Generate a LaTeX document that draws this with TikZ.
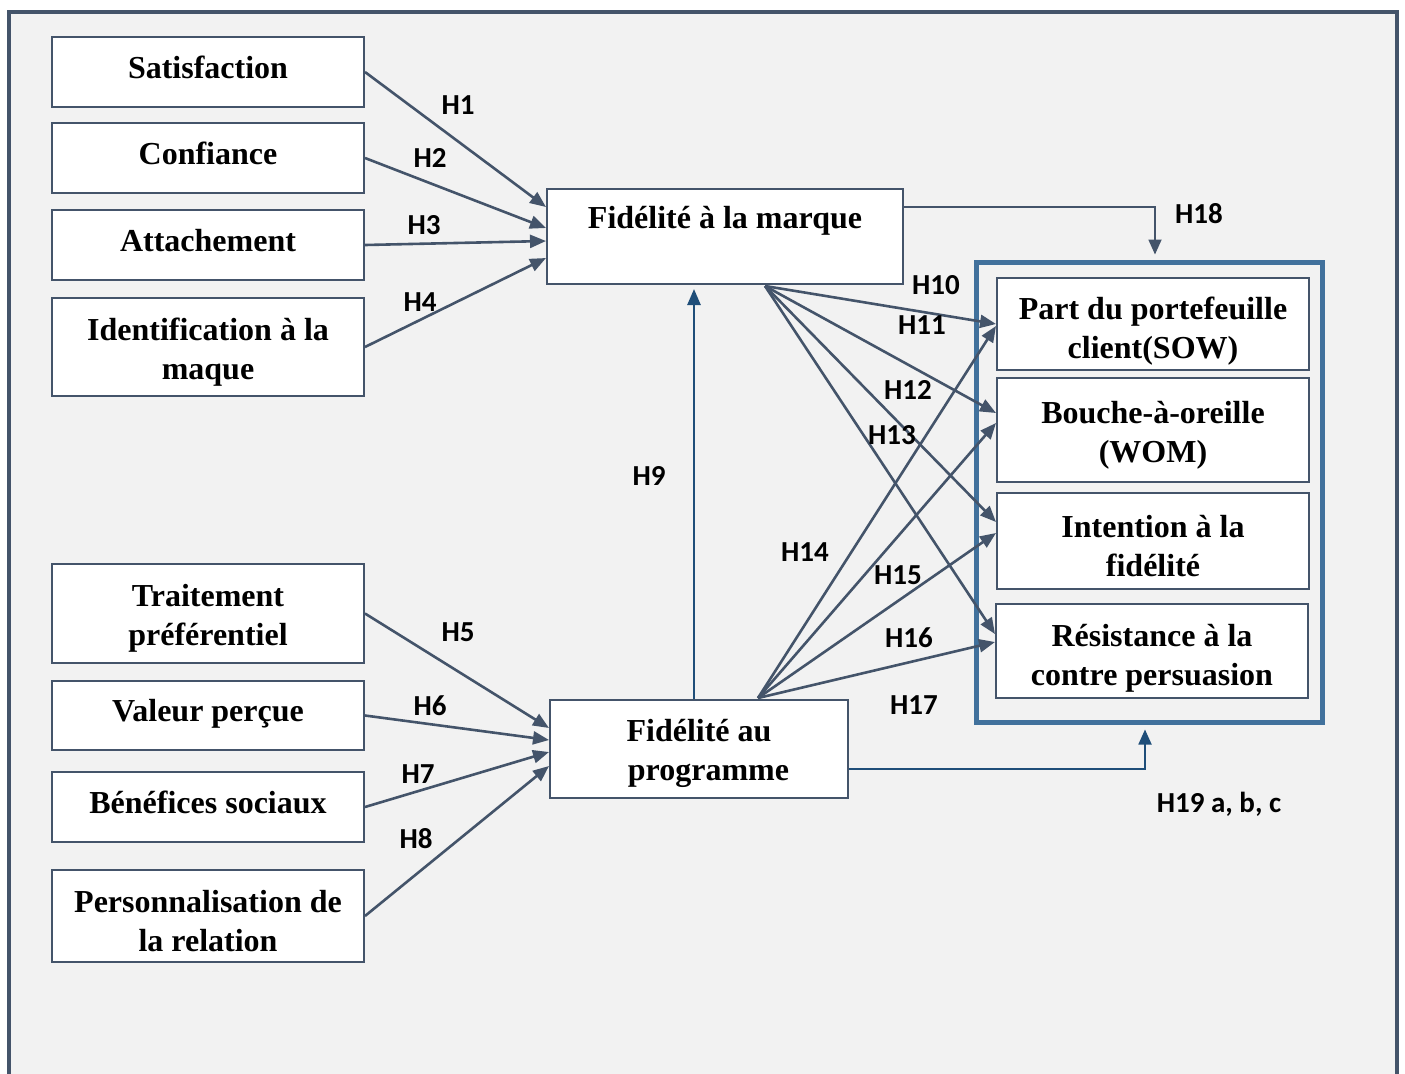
\documentclass[tikz,border=0pt]{standalone}
\usepackage{fontspec}
\setmainfont{Liberation Serif}
\newfontfamily\hypfont{Carlito}
\usetikzlibrary{arrows.meta,calc}
\definecolor{bggray}{RGB}{242,242,242}
\definecolor{slate}{RGB}{68,84,106}
\definecolor{grpblue}{RGB}{65,113,156}
\definecolor{darkblue}{RGB}{31,78,121}
\newcommand{\tstrut}{\rule{0pt}{16pt}}

\begin{document}
\begin{tikzpicture}[x=0.5pt,y=0.5pt,yscale=-1,xscale=1,
  varbox/.style={draw=slate,line width=1pt,fill=white,align=center,inner sep=2pt,
    font=\fontsize{16}{19.5}\selectfont\bfseries},
  leftbox/.style={varbox,minimum width=156pt},
  onebox/.style={leftbox,minimum height=35pt,text depth=5pt},
  rightbox/.style={varbox,minimum width=156pt},
  grpbox/.style={draw=grpblue,line width=2.5pt,minimum width=173pt,minimum height=230pt},
  hyp/.style={font=\hypfont\fontsize{14.5}{17}\selectfont\bfseries,inner sep=0pt},
  link/.style={draw=slate,line width=1.3pt,-{Triangle[length=8pt,width=6.5pt]}},
  thinlink/.style={line width=0.9pt,-{Triangle[length=7.5pt,width=6.5pt]}}]
\useasboundingbox (0,0) rectangle (1405,1073);

%Shape: Frame
\draw [draw=slate,line width=2.2pt,fill=bggray] (9,12) rectangle (1397,1110) ;

%Shape: Rectangle (antecedents)
\node [onebox] (sat) at (208,72) {Satisfaction};
\node [onebox] (conf) at (208,158) {Confiance};
\node [onebox] (att) at (208,245) {Attachement};
\node [leftbox,minimum height=49pt] (ident) at (208,347) {\tstrut Identification à la\\maque};
\node [leftbox,minimum height=49.5pt] (trait) at (208,613.5) {\tstrut Traitement\\préférentiel};
\node [onebox,minimum height=34.5pt] (val) at (208,715.5) {Valeur perçue};
\node [onebox] (bene) at (208,807) {Bénéfices sociaux};
\node [leftbox,minimum height=46pt] (perso) at (208,916) {\tstrut Personnalisation de\\la relation};

%Shape: Rectangle (loyalty)
\node [varbox,minimum width=178pt,minimum height=47.5pt,text height=10pt,text depth=18pt] (fbm) at (725,236.5) {Fidélité à la marque};
\node [varbox,minimum width=149pt,minimum height=49pt] (fbp) at (699,749) {\tstrut Fidélité au\\\hspace*{9.5pt}programme};

%Shape: Rectangle (outcomes)
\node [grpbox] (grp) at (1149,492) {};
\node [rightbox,minimum height=46pt] (sow) at (1153,324) {\rule{0pt}{18pt}Part du portefeuille\\client(SOW)};
\node [rightbox,minimum height=52pt] (wom) at (1153,430) {\tstrut Bouche-à-oreille\\(WOM)};
\node [rightbox,minimum height=48pt] (int) at (1153,541) {\tstrut Intention à la\\fidélité};
\node [rightbox,minimum height=47pt] (res) at (1152,651) {\rule{0pt}{18pt}Résistance à la\\contre persuasion};

\coordinate (fbmout) at ($(fbm.south)+(40,1)$);
\coordinate (fbpout) at ($(fbp.north)+(59,-1)$);

%Straight Lines
\draw [link] (sat.east) -- ($(fbm.west)+(0,-29.5)$) ;
\draw [link] (conf.east) -- ($(fbm.west)+(0,-8.5)$) ;
\draw [link] (att.east) -- ($(fbm.west)+(0,4.5)$) ;
\draw [link] (ident.east) -- ($(fbm.west)+(0,21.5)$) ;
\draw [link] (trait.east) -- ($(fbp.west)+(0,-21)$) ;
\draw [link] (val.east) -- ($(fbp.west)+(0,-9)$) ;
\draw [link] (bene.east) -- ($(fbp.west)+(0,3)$) ;
\draw [link] (perso.east) -- ($(fbp.west)+(0,17)$) ;

\draw [link,draw=darkblue] ($(fbp.north)+(-5,0)$) -- ($(fbm.south)+(-31,4)$) ;

\draw [link] (fbmout) -- (sow.west) ;
\draw [link] (fbmout) -- ($(wom.west)+(0,-17)$) ;
\draw [link] (fbmout) -- ($(int.west)+(0,-19)$) ;
\draw [link] (fbmout) -- ($(res.west)+(0,-17)$) ;

\draw [link] (fbpout) -- ($(sow.west)+(0,2)$) ;
\draw [link] (fbpout) -- ($(wom.west)+(0,-7)$) ;
\draw [link] (fbpout) -- ($(int.west)+(0,-8)$) ;
\draw [link] (fbpout) -- ($(res.west)+(0,-9)$) ;

%Elbow Lines
\draw [thinlink,draw=slate] ($(fbm.east)+(0,-29.5)$) -| ($(grp.north)+(6,-5)$) ;
\draw [thinlink,draw=darkblue] ($(fbp.east)+(0,20)$) -| ($(grp.south)+(-4,5)$) ;

% Text Node
\node [hyp] (h1) at (458,105) {H1};
\node [hyp] (h2) at (430,158) {H2};
\node [hyp] (h3) at (424,225) {H3};
\node [hyp] (h4) at (420,302) {H4};
\node [hyp] (h5) at (458,632) {H5};
\node [hyp] (h6) at (430,706) {H6};
\node [hyp] (h7) at (418,774) {H7};
\node [hyp] (h8) at (416,839) {H8};
\node [hyp] (h9) at (649,476) {H9};
\node [hyp] (h10) at (936,285) {H10};
\node [hyp] (h11) at (922,325) {H11};
\node [hyp] (h12) at (908,390) {H12};
\node [hyp] (h13) at (892,435) {H13};
\node [hyp] (h14) at (805,552) {H14};
\node [hyp] (h15) at (898,575) {H15};
\node [hyp] (h16) at (909,638) {H16};
\node [hyp] (h17) at (914,705) {H17};
\node [hyp] (h18) at (1199,214) {H18};
\node [hyp] (h19) at (1219,804) {H19 a, b, c};

\end{tikzpicture}
\end{document}
